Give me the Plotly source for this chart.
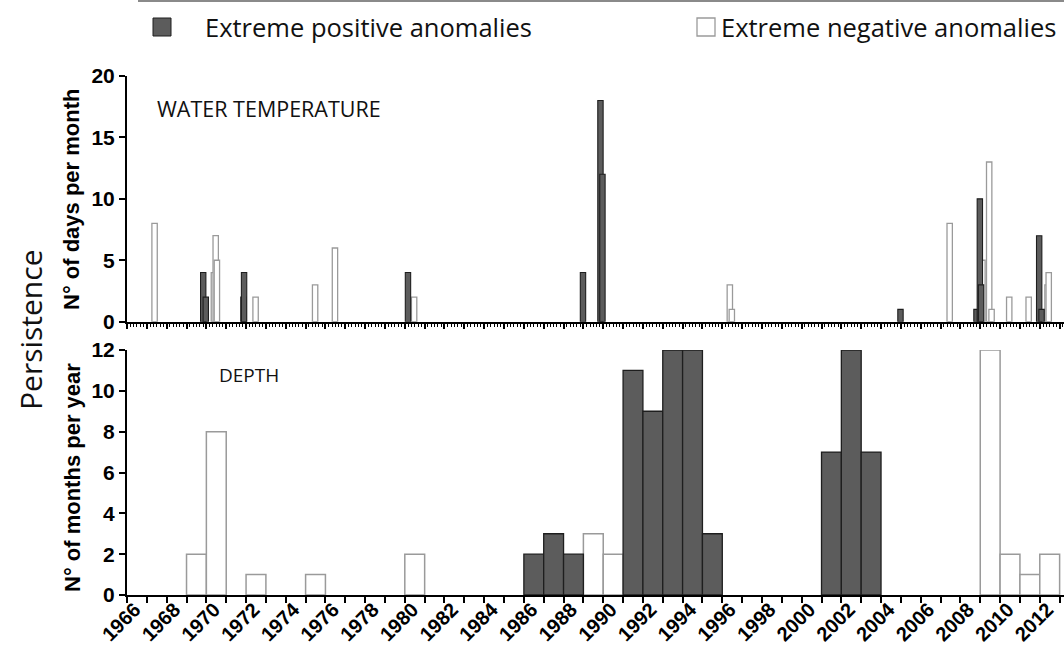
import plotly.graph_objects as go

# ---------------- DATA ----------------
# Water temperature: monthly extremes (position as decimal year, N° of days per month)
wt_pos_time = [1968.84, 1968.97, 1970.87, 1970.90, 1979.16, 1987.98, 1988.86, 1988.96,
               2003.98, 2007.81, 2007.98, 2008.04, 2010.97, 2011.09]
wt_pos_days = [4, 2, 2, 4, 4, 4, 18, 12, 1, 1, 10, 3, 7, 1]

wt_neg_time = [1966.39, 1969.38, 1969.47, 1969.53, 1971.48, 1974.48, 1975.48, 1979.47,
               1995.38, 1995.48, 2006.46, 2008.11, 2008.45, 2008.57, 2009.46, 2010.44,
               2011.39, 2011.45]
wt_neg_days = [8, 4, 7, 5, 2, 3, 6, 2, 3, 1, 8, 5, 13, 1, 2, 2, 3, 4]

# Depth: yearly extremes (year, N° of months per year)
depth_pos_year = [1985, 1986, 1987, 1990, 1991, 1992, 1993, 1994, 2000, 2001, 2002]
depth_pos_months = [2, 3, 2, 11, 9, 12, 12, 3, 7, 12, 7]
depth_neg_year = [1968, 1969, 1971, 1974, 1979, 1988, 1989, 2008, 2009, 2010, 2011]
depth_neg_months = [2, 8, 1, 1, 2, 3, 2, 12, 2, 1, 2]

year_ticks = list(range(1965, 2013))
year_labels = [str(y) if y % 2 == 0 else "" for y in year_ticks]

# ---------------- STYLE ----------------
DARK_FILL = "#5c5c5c"
DARK_LINE = "#1e1e1e"
LIGHT_LINE = "#9a9a9a"
BOLD = "Liberation Sans"
SANS = "Open Sans"

L, T, B, R = 127, 76, 51, 0
W, H = 1064, 646
PW, PH = W - L - R, H - T - B


def px(x):
    return (x - L) / PW


def py(y):
    return (H - B - y) / PH


fig = go.Figure()

# Top panel
fig.add_trace(go.Bar(x=wt_neg_time, y=wt_neg_days, width=0.27,
                     marker=dict(color="white", line=dict(color=LIGHT_LINE, width=1.3)),
                     name="Extreme negative anomalies", showlegend=False,
                     xaxis="x", yaxis="y"))
fig.add_trace(go.Bar(x=wt_pos_time, y=wt_pos_days, width=0.27,
                     marker=dict(color=DARK_FILL, line=dict(color=DARK_LINE, width=1.1)),
                     name="Extreme positive anomalies", showlegend=False,
                     xaxis="x", yaxis="y"))

# Bottom panel
fig.add_trace(go.Bar(x=depth_neg_year, y=depth_neg_months, width=1, offset=0,
                     marker=dict(color="white", line=dict(color=LIGHT_LINE, width=1.5)),
                     name="Extreme negative anomalies", showlegend=False,
                     xaxis="x2", yaxis="y2"))
fig.add_trace(go.Bar(x=depth_pos_year, y=depth_pos_months, width=1, offset=0,
                     marker=dict(color=DARK_FILL, line=dict(color=DARK_LINE, width=1.3)),
                     name="Extreme positive anomalies", showlegend=False,
                     xaxis="x2", yaxis="y2"))

xr = [1965, 1965 + PW / 19.843]
top_dom = [py(321.7), 1.0]
bot_dom = [0.0, py(350)]

axis_common = dict(showgrid=False, zeroline=False, showline=True, linecolor="black",
                   linewidth=2, ticks="outside", tickcolor="black", automargin=False)

fig.update_layout(
    width=W, height=H,
    margin=dict(l=L, r=R, t=T, b=B, autoexpand=False),
    paper_bgcolor="white", plot_bgcolor="white",
    barmode="overlay",
    showlegend=False,
    xaxis=dict(domain=[0, 1], anchor="y", range=xr, tickmode="linear", tick0=1965, dtick=1,
               ticklen=5, tickwidth=1.5, showticklabels=False,
               minor=dict(ticks="outside", tick0=1965, dtick=1 / 6, ticklen=3,
                          tickwidth=1, tickcolor="black"),
               **axis_common),
    yaxis=dict(domain=top_dom, anchor="x", range=[0, 20], tickvals=[0, 5, 10, 15, 20],
               ticklen=6, tickwidth=2,
               tickfont=dict(family=BOLD, size=21, color="black", weight="bold"),
               **axis_common),
    xaxis2=dict(domain=[0, 1], anchor="y2", range=xr, tickvals=year_ticks, ticktext=year_labels,
                ticklen=6, tickwidth=2, tickangle=-45, ticklabeloverflow="allow",
                ticklabelstandoff=-13, ticklabelshift=-12,
                tickfont=dict(family=BOLD, size=20, color="black", weight="bold"),
                **axis_common),
    yaxis2=dict(domain=bot_dom, anchor="x2", range=[0, 12], tickvals=[0, 2, 4, 6, 8, 10, 12],
                ticklen=6, tickwidth=2,
                tickfont=dict(family=BOLD, size=21, color="black", weight="bold"),
                **axis_common),
)

# Legend (drawn manually to match the large square swatches)
fig.add_shape(type="rect", xref="paper", yref="paper",
              x0=px(153), x1=px(171), y0=py(36), y1=py(18),
              fillcolor=DARK_FILL, line=dict(color=DARK_LINE, width=1))
fig.add_shape(type="rect", xref="paper", yref="paper",
              x0=px(697), x1=px(715), y0=py(36), y1=py(18),
              fillcolor="white", line=dict(color=LIGHT_LINE, width=1.3))
fig.add_annotation(text="Extreme positive anomalies", xref="paper", yref="paper",
                   x=px(203), y=py(27), xanchor="left", yanchor="middle", showarrow=False,
                   font=dict(family=SANS, size=25.5, color="#111"))
fig.add_annotation(text="Extreme negative anomalies", xref="paper", yref="paper",
                   x=px(719), y=py(27), xanchor="left", yanchor="middle", showarrow=False,
                   font=dict(family=SANS, size=25.5, color="#111"))
# top border line
fig.add_shape(type="line", xref="paper", yref="paper", x0=px(138), x1=1, y0=py(1), y1=py(1),
              line=dict(color="#8a8a8a", width=2))

# Panel labels
fig.add_annotation(text="WATER TEMPERATURE", xref="paper", yref="paper",
                   x=px(155), y=py(108), xanchor="left", yanchor="middle", showarrow=False,
                   font=dict(family=SANS, size=21.5, color="#111"))
fig.add_annotation(text="DEPTH", xref="paper", yref="paper",
                   x=px(217), y=py(375), xanchor="left", yanchor="middle", showarrow=False,
                   font=dict(family=SANS, size=19, color="#111"))

# Axis titles
fig.add_annotation(text="N° of days per month", xref="paper", yref="paper",
                   x=px(72), y=py(200), xanchor="center", yanchor="middle", textangle=-90,
                   showarrow=False, font=dict(family=BOLD, size=22, color="black", weight="bold"))
fig.add_annotation(text="N° of months per year", xref="paper", yref="paper",
                   x=px(72), y=py(478), xanchor="center", yanchor="middle", textangle=-90,
                   showarrow=False, font=dict(family=BOLD, size=22, color="black", weight="bold"))
fig.add_annotation(text="Persistence", xref="paper", yref="paper",
                   x=px(30), y=py(330), xanchor="center", yanchor="middle", textangle=-90,
                   showarrow=False, font=dict(family=SANS, size=30, color="#111"))

fig.write_html("out.html")
